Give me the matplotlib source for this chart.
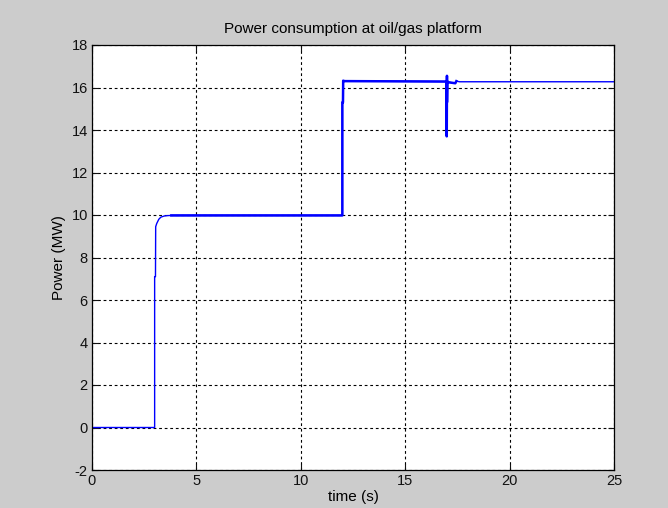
import numpy as np
import matplotlib
matplotlib.use("Agg")
import matplotlib.pyplot as plt

# power trace (time in s, power in MW)
time_s = [0.0, 3.0, 3.0, 3.04, 3.05, 3.1, 3.2, 3.3, 3.45, 3.6, 3.8,
          8.0, 11.99, 11.99, 12.02, 12.03, 12.1, 16.98,
          16.99, 17.0, 17.0, 17.01, 17.02, 17.05, 17.4, 17.45, 17.6, 25.0]
power_mw = [0.0, 0.0, 7.1, 7.1, 9.45, 9.6, 9.8, 9.9, 9.95, 9.97, 9.98,
            9.98, 9.98, 15.3, 15.3, 16.32, 16.3, 16.28,
            13.7, 16.55, 15.3, 16.3, 16.28, 16.25, 16.2, 16.3, 16.27, 16.27]

x_ticks = [0, 5, 10, 15, 20, 25]
y_ticks = list(range(-2, 19, 2))

t = np.array(time_s)
p = np.array(power_mw)

plt.rcParams['font.family'] = ['Liberation Sans', 'DejaVu Sans']
plt.rcParams['axes.unicode_minus'] = False
fig = plt.figure(figsize=(6.68, 5.08), dpi=100, facecolor='#cccccc')
ax = fig.add_axes([92 / 668, 1 - 470 / 508, 522 / 668, 425 / 508])

# thin line everywhere, heavier where the trace is noisy
ax.plot(t, p, color='#0000ff', lw=1.0)
heavy = (t >= 3.8) & (t <= 17.45)
ax.plot(t[heavy], p[heavy], color='#0000ff', lw=1.8)

ax.set_xlim(0, 25)
ax.set_ylim(-2, 18)
ax.set_xticks(x_ticks)
ax.set_yticks(y_ticks)
ax.tick_params(direction='in', length=4, top=True, right=True,
               labelsize=10.5, pad=3, colors='#111111')
ax.grid(True, color='black', linestyle=(0, (2.5, 2.5)), linewidth=0.8)
for s in ax.spines.values():
    s.set_linewidth(0.9)

ax.set_title('Power consumption at oil/gas platform', fontsize=11, pad=9)
ax.set_xlabel('time (s)', fontsize=11, labelpad=1)
ax.set_ylabel('Power (MW)', fontsize=11, labelpad=4)

fig.savefig('out.png', dpi=100, facecolor=fig.get_facecolor())
